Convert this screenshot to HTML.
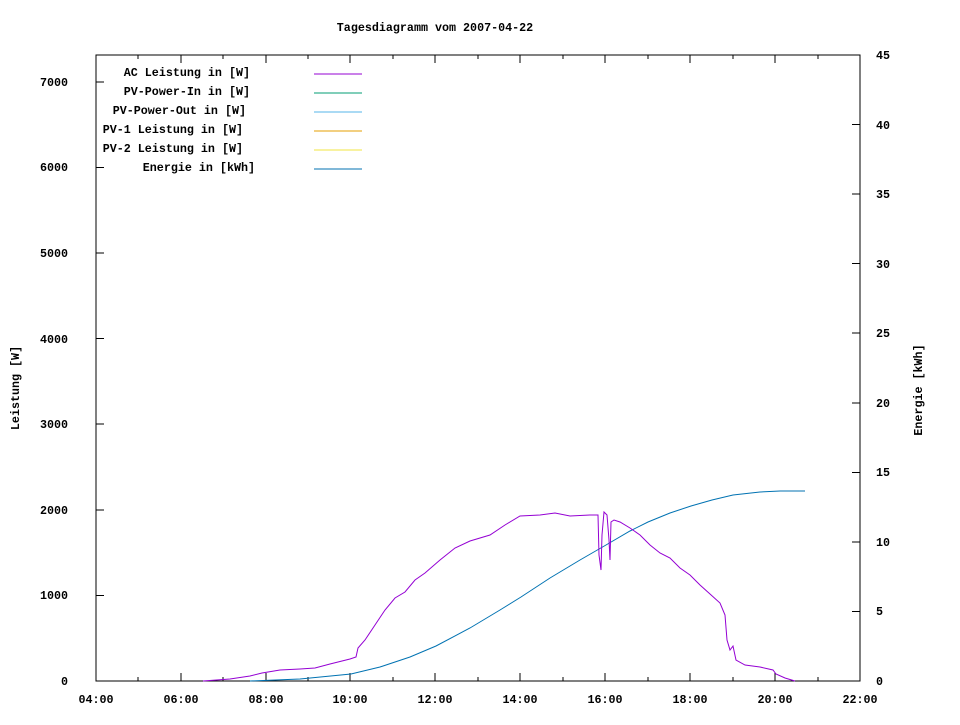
<!DOCTYPE html>
<html><head><meta charset="utf-8"><style>
body{margin:0;background:#fff;}
svg text{font-family:"Liberation Mono","DejaVu Sans Mono",monospace;font-size:11.7px;font-weight:bold;fill:#000;}
</style></head><body>
<svg width="960" height="720" xmlns="http://www.w3.org/2000/svg">
<rect x="0" y="0" width="960" height="720" fill="#fff"/>
<text x="435" y="31" text-anchor="middle">Tagesdiagramm vom 2007-04-22</text>
<rect x="96" y="55" width="764" height="626" fill="none" stroke="#000" stroke-width="1" shape-rendering="crispEdges"/>
<g stroke="#000" stroke-width="1" shape-rendering="crispEdges">
<path d="M96 681h8M96 595.4h8M96 509.8h8M96 424.2h8M96 338.6h8M96 253h8M96 167.4h8M96 81.8h8"/>
<path d="M860 681h-8M860 611.4h-8M860 541.9h-8M860 472.3h-8M860 402.8h-8M860 333.2h-8M860 263.7h-8M860 194.1h-8M860 124.6h-8M860 55h-8"/>
<path d="M96 681v-8M96 55v8M181 681v-8M181 55v8M266 681v-8M266 55v8M350 681v-8M350 55v8M435 681v-8M435 55v8M520 681v-8M520 55v8M605 681v-8M605 55v8M690 681v-8M690 55v8M775 681v-8M775 55v8"/>
<path d="M138 681v-4M138 55v4M223 681v-4M223 55v4M308 681v-4M308 55v4M393 681v-4M393 55v4M478 681v-4M478 55v4M563 681v-4M563 55v4M648 681v-4M648 55v4M733 681v-4M733 55v4M818 681v-4M818 55v4"/>
</g>
<g text-anchor="end">
<text x="68" y="685">0</text><text x="68" y="599">1000</text><text x="68" y="514">2000</text>
<text x="68" y="428">3000</text><text x="68" y="343">4000</text><text x="68" y="257">5000</text>
<text x="68" y="171">6000</text><text x="68" y="86">7000</text>
</g>
<g text-anchor="start">
<text x="876" y="685">0</text><text x="876" y="615">5</text><text x="876" y="546">10</text>
<text x="876" y="476">15</text><text x="876" y="407">20</text><text x="876" y="337">25</text>
<text x="876" y="268">30</text><text x="876" y="198">35</text><text x="876" y="129">40</text>
<text x="876" y="59">45</text>
</g>
<g text-anchor="middle">
<text x="96" y="703">04:00</text><text x="181" y="703">06:00</text><text x="266" y="703">08:00</text>
<text x="350" y="703">10:00</text><text x="435" y="703">12:00</text><text x="520" y="703">14:00</text>
<text x="605" y="703">16:00</text><text x="690" y="703">18:00</text><text x="775" y="703">20:00</text>
<text x="860" y="703">22:00</text>
</g>
<text transform="translate(19,388) rotate(-90)" text-anchor="middle">Leistung [W]</text>
<text transform="translate(922,390) rotate(-90)" text-anchor="middle">Energie [kWh]</text>
<g text-anchor="end">
<text x="250" y="76">AC Leistung in [W]</text>
<text x="250" y="95">PV-Power-In in [W]</text>
<text x="246" y="114">PV-Power-Out in [W]</text>
<text x="243" y="133">PV-1 Leistung in [W]</text>
<text x="243" y="152">PV-2 Leistung in [W]</text>
<text x="255" y="171">Energie in [kWh]</text>
</g>
<g stroke-width="1" shape-rendering="crispEdges">
<path d="M314 74h48" stroke="#9400d3"/>
<path d="M314 93h48" stroke="#009e73"/>
<path d="M314 112h48" stroke="#56b4e9"/>
<path d="M314 131h48" stroke="#e69f00"/>
<path d="M314 150h48" stroke="#f0e442"/>
<path d="M314 169h48" stroke="#0072b2"/>
</g>
<polyline fill="none" stroke="#0072b2" stroke-width="1" points="250,681 300,679 351,674 380,667 410,657 436,646 470,628 500,610 521,597 550,578 580,560 606,545 630,531 648,522 670,513 691,506 712,500 733,495 760,492 780,491 805,491"/>
<polyline fill="none" stroke="#9400d3" stroke-width="1" points="203,681 230,679 250,676 262,673 280,670 300,669 315,668 330,664 350,659 356,657 358,648 365,640 375,625 385,610 395,598 405,592 415,580 425,573 440,560 455,548 470,541 490,535 505,525 520,516 540,515 555,513 570,516 590,515 598,515 599,555 601,570 602,535 604,512 607,515 609,540 610,560 611,522 614,520 620,522 630,528 640,535 650,545 660,553 670,558 680,568 690,575 700,585 710,594 720,603 725,615 727,640 730,650 733,646 736,660 745,665 760,667 773,670 776,674 785,678 795,681"/>
</svg>
</body></html>
